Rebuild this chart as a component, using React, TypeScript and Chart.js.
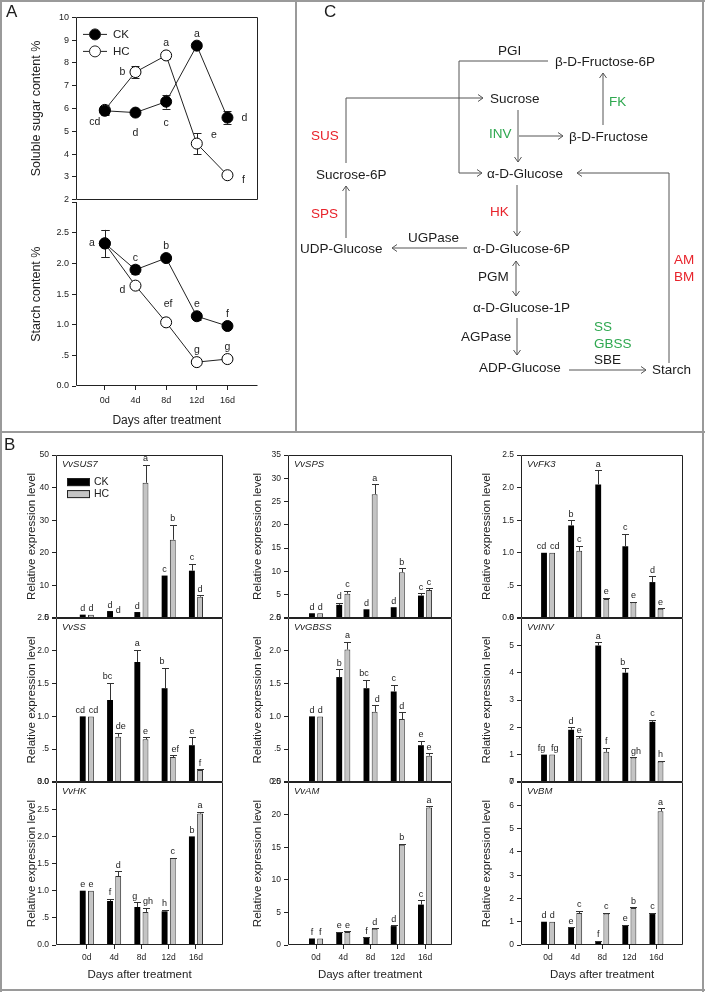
import React, { useEffect, useRef } from 'react';
import { Chart, registerables } from 'chart.js';

Chart.register(...registerables);

const FONT = "'Liberation Sans', Arial, Helvetica, sans-serif";
Chart.defaults.font.family = FONT;
Chart.defaults.color = '#222';

// ---------------- DATA ----------------
const days = ['0d', '4d', '8d', '12d', '16d'];

// Panel A — soluble sugar
const sugarCK = [5.9, 5.82, 6.3, 8.76, 5.6];
const sugarCKErr = [0.15, 0.06, 0.3, 0.1, 0.27];
const sugarHC = [5.94, 7.6, 8.33, 4.46, 3.07];
const sugarHCErr = [0.23, 0.27, 0.17, 0.46, 0.05];
const sugarCKLetters = ['cd', 'd', 'c', 'a', 'd'];
const sugarHCLetters = ['', 'b', 'a', 'e', 'f'];
const sugarCKLetterSide = ['bl', 'b', 'b', 'a', 'r'];
const sugarHCLetterSide = ['', 'l', 'a', 'ru', 'rd'];

// Panel A — starch
const starchCK = [2.33, 1.9, 2.09, 1.14, 0.98];
const starchCKErr = [0.22, 0.07, 0.05, 0.06, 0.05];
const starchHC = [2.33, 1.64, 1.04, 0.39, 0.44];
const starchHCErr = [0.22, 0.05, 0.03, 0.02, 0.03];
const starchCKLetters = ['', 'c', 'b', 'e', 'f'];
const starchHCLetters = ['a', 'd', 'ef', 'g', 'g'];
const starchCKLetterSide = ['', 'a', 'a', 'a', 'a'];
const starchHCLetterSide = ['l', 'ld', 'A', 'a', 'a'];

// Panel B — relative expression
const sus7CK = [1.0, 2.1, 1.8, 13.0, 14.5];
const sus7CKErr = [0, 0, 0, 0, 2.1];
const sus7HC = [1.0, 0.3, 41.5, 24.0, 6.5];
const sus7HCErr = [0, 0, 5.5, 4.6, 0.4];
const sus7CKLetters = ['d', 'd', 'd', 'c', 'c'];
const sus7HCLetters = ['d', 'd', 'a', 'b', 'd'];

const spsCK = [1.0, 2.8, 1.85, 2.3, 4.8];
const spsCKErr = [0, 0.5, 0, 0, 0.5];
const spsHC = [1.0, 5.2, 26.6, 9.8, 6.0];
const spsHCErr = [0, 0.6, 2.1, 0.9, 0.4];
const spsCKLetters = ['d', 'd', 'd', 'd', 'c'];
const spsHCLetters = ['d', 'c', 'a', 'b', 'c'];

const fk3CK = [1.0, 1.42, 2.05, 1.1, 0.55];
const fk3CKErr = [0, 0.08, 0.22, 0.19, 0.09];
const fk3HC = [1.0, 1.03, 0.29, 0.24, 0.14];
const fk3HCErr = [0, 0.08, 0.02, 0.01, 0.01];
const fk3CKLetters = ['cd', 'b', 'a', 'c', 'd'];
const fk3HCLetters = ['cd', 'c', 'e', 'e', 'e'];

const ssCK = [1.0, 1.25, 1.83, 1.43, 0.56];
const ssCKErr = [0, 0.26, 0.19, 0.31, 0.12];
const ssHC = [1.0, 0.69, 0.65, 0.38, 0.18];
const ssHCErr = [0, 0.06, 0.03, 0.03, 0.01];
const ssCKLetters = ['cd', 'bc', 'a', 'b', 'e'];
const ssHCLetters = ['cd', 'de', 'e', 'ef', 'f'];

const gbssCK = [1.0, 1.6, 1.43, 1.38, 0.56];
const gbssCKErr = [0, 0.12, 0.13, 0.1, 0.07];
const gbssHC = [1.0, 2.02, 1.07, 0.96, 0.4];
const gbssHCErr = [0, 0.12, 0.1, 0.1, 0.04];
const gbssCKLetters = ['d', 'b', 'bc', 'c', 'e'];
const gbssHCLetters = ['d', 'a', 'd', 'd', 'e'];

const invCK = [1.0, 1.91, 5.0, 4.0, 2.2];
const invCKErr = [0, 0.09, 0.12, 0.17, 0.08];
const invHC = [1.0, 1.6, 1.1, 0.89, 0.75];
const invHCErr = [0, 0.07, 0.15, 0.02, 0.03];
const invCKLetters = ['fg', 'd', 'a', 'b', 'c'];
const invHCLetters = ['fg', 'e', 'f', 'gh', 'h'];

const hkCK = [1.0, 0.81, 0.7, 0.62, 2.0];
const hkCKErr = [0, 0.04, 0.09, 0.03, 0];
const hkHC = [1.0, 1.27, 0.61, 1.6, 2.42];
const hkHCErr = [0, 0.09, 0.08, 0.01, 0.03];
const hkCKLetters = ['e', 'f', 'g', 'h', 'b'];
const hkHCLetters = ['e', 'd', 'gh', 'c', 'a'];

const amCK = [1.0, 1.9, 1.1, 2.9, 6.2];
const amCKErr = [0, 0.1, 0.1, 0.1, 0.7];
const amHC = [1.0, 2.0, 2.5, 15.4, 21.1];
const amHCErr = [0, 0.1, 0.05, 0.1, 0.2];
const amCKLetters = ['f', 'e', 'f', 'd', 'c'];
const amHCLetters = ['f', 'e', 'd', 'b', 'a'];

const bmCK = [1.0, 0.73, 0.16, 0.85, 1.33];
const bmCKErr = [0, 0.03, 0.02, 0.03, 0.06];
const bmHC = [1.0, 1.37, 1.35, 1.59, 5.75];
const bmHCErr = [0, 0.1, 0.04, 0.04, 0.12];
const bmCKLetters = ['d', 'e', 'f', 'e', 'c'];
const bmHCLetters = ['d', 'c', 'c', 'b', 'a'];

type GeneSpec = {
  name: string; ck: number[]; ckErr: number[]; hc: number[]; hcErr: number[];
  ckL: string[]; hcL: string[]; max: number; step: number;
};

const genes: GeneSpec[] = [
  { name: 'VvSUS7', ck: sus7CK, ckErr: sus7CKErr, hc: sus7HC, hcErr: sus7HCErr, ckL: sus7CKLetters, hcL: sus7HCLetters, max: 50, step: 10 },
  { name: 'VvSPS', ck: spsCK, ckErr: spsCKErr, hc: spsHC, hcErr: spsHCErr, ckL: spsCKLetters, hcL: spsHCLetters, max: 35, step: 5 },
  { name: 'VvFK3', ck: fk3CK, ckErr: fk3CKErr, hc: fk3HC, hcErr: fk3HCErr, ckL: fk3CKLetters, hcL: fk3HCLetters, max: 2.5, step: 0.5 },
  { name: 'VvSS', ck: ssCK, ckErr: ssCKErr, hc: ssHC, hcErr: ssHCErr, ckL: ssCKLetters, hcL: ssHCLetters, max: 2.5, step: 0.5 },
  { name: 'VvGBSS', ck: gbssCK, ckErr: gbssCKErr, hc: gbssHC, hcErr: gbssHCErr, ckL: gbssCKLetters, hcL: gbssHCLetters, max: 2.5, step: 0.5 },
  { name: 'VvINV', ck: invCK, ckErr: invCKErr, hc: invHC, hcErr: invHCErr, ckL: invCKLetters, hcL: invHCLetters, max: 6, step: 1 },
  { name: 'VvHK', ck: hkCK, ckErr: hkCKErr, hc: hkHC, hcErr: hkHCErr, ckL: hkCKLetters, hcL: hkHCLetters, max: 3, step: 0.5 },
  { name: 'VvAM', ck: amCK, ckErr: amCKErr, hc: amHC, hcErr: amHCErr, ckL: amCKLetters, hcL: amHCLetters, max: 25, step: 5 },
  { name: 'VvBM', ck: bmCK, ckErr: bmCKErr, hc: bmHC, hcErr: bmHCErr, ckL: bmCKLetters, hcL: bmHCLetters, max: 7, step: 1 },
];

// ---------------- HELPERS ----------------
const fmtTick = (step: number) => (v: number) => {
  if (step >= 1) return String(v);
  if (Math.abs(v) < 1e-9) return '0.0';
  if (Math.abs(v - 0.5) < 1e-9) return '.5';
  return v.toFixed(1);
};

function boxPlugin(sides: 'all' | 'lb') {
  return {
    id: 'boxFrame',
    afterDraw(chart: any) {
      const { ctx, chartArea: a } = chart;
      const l = Math.round(a.left) + 0.5, r = Math.round(a.right) - 0.5;
      const t = Math.round(a.top) + 0.5, b = Math.round(a.bottom) - 0.5;
      ctx.save();
      ctx.strokeStyle = '#222';
      ctx.lineWidth = 1;
      ctx.beginPath();
      if (sides === 'all') {
        ctx.rect(l, t, r - l, b - t);
      } else {
        ctx.moveTo(l, Math.round(a.top));
        ctx.lineTo(l, b);
        ctx.lineTo(r, b);
      }
      ctx.stroke();
      ctx.restore();
    },
  };
}

const sideOffsets: Record<string, [number, number]> = {
  a: [0, -12], A: [2, -18], b: [0, 21], l: [-13, 0], ld: [-13, 4],
  r: [17, 0], ru: [17, -8], rd: [16, 5], bl: [-10, 11],
};

function lineAnnot(errs: number[][], letters: string[][], sides: string[][], legend: boolean) {
  return {
    id: 'lineAnnot',
    beforeDatasetsDraw(chart: any) {
      const { ctx } = chart;
      const ys = chart.scales.y;
      ctx.save();
      ctx.strokeStyle = '#222';
      ctx.lineWidth = 1;
      chart.data.datasets.forEach((ds: any, di: number) => {
        const meta = chart.getDatasetMeta(di);
        meta.data.forEach((el: any, i: number) => {
          const v = ds.data[i].y;
          const e = errs[di][i];
          if (!e) return;
          const yt = ys.getPixelForValue(v + e);
          const yb = ys.getPixelForValue(v - e);
          const x = Math.round(el.x) + 0.5;
          ctx.beginPath();
          ctx.moveTo(x, yt); ctx.lineTo(x, yb);
          ctx.moveTo(x - 4, Math.round(yt) + 0.5); ctx.lineTo(x + 4, Math.round(yt) + 0.5);
          ctx.moveTo(x - 4, Math.round(yb) + 0.5); ctx.lineTo(x + 4, Math.round(yb) + 0.5);
          ctx.stroke();
        });
      });
      ctx.restore();
    },
    afterDatasetsDraw(chart: any) {
      const { ctx, chartArea: a } = chart;
      ctx.save();
      ctx.fillStyle = '#222';
      ctx.font = `10.5px ${FONT}`;
      ctx.textAlign = 'center';
      ctx.textBaseline = 'middle';
      chart.data.datasets.forEach((_ds: any, di: number) => {
        const meta = chart.getDatasetMeta(di);
        meta.data.forEach((el: any, i: number) => {
          const txt = letters[di][i];
          if (!txt) return;
          const off = sideOffsets[sides[di][i]] || [0, -12];
          ctx.fillText(txt, el.x + off[0], el.y + off[1]);
        });
      });
      if (legend) {
        const rows: [string, string][] = [['CK', '#000'], ['HC', '#fff']];
        rows.forEach(([lab, fill], k) => {
          const y = a.top + 17 + k * 17;
          ctx.strokeStyle = '#222';
          ctx.lineWidth = 1;
          ctx.beginPath();
          ctx.moveTo(a.left + 7, y); ctx.lineTo(a.left + 31, y);
          ctx.stroke();
          ctx.beginPath();
          ctx.arc(a.left + 19, y, 5.5, 0, Math.PI * 2);
          ctx.fillStyle = fill;
          ctx.fill();
          ctx.stroke();
          ctx.fillStyle = '#222';
          ctx.font = `11.5px ${FONT}`;
          ctx.textAlign = 'left';
          ctx.fillText(lab, a.left + 37, y + 0.5);
        });
      }
      ctx.restore();
    },
  };
}

function barAnnot(g: GeneSpec, legend: boolean) {
  const errs = [g.ckErr, g.hcErr];
  const letters = [g.ckL, g.hcL];
  return {
    id: 'barAnnot',
    afterDatasetsDraw(chart: any) {
      const { ctx, chartArea: a } = chart;
      const ys = chart.scales.y;
      ctx.save();
      ctx.strokeStyle = '#333';
      ctx.lineWidth = 1;
      ctx.fillStyle = '#222';
      ctx.font = `9px ${FONT}`;
      ctx.textAlign = 'center';
      ctx.textBaseline = 'bottom';
      chart.data.datasets.forEach((ds: any, di: number) => {
        const meta = chart.getDatasetMeta(di);
        meta.data.forEach((el: any, i: number) => {
          const v = ds.data[i].y;
          const e = errs[di][i];
          let top = el.y;
          if (e > 0) {
            const ye = ys.getPixelForValue(v + e);
            const x = Math.round(el.x) + 0.5;
            const yc = Math.round(ye) + 0.5;
            ctx.beginPath();
            ctx.moveTo(x, el.y); ctx.lineTo(x, yc);
            ctx.moveTo(x - 3.5, yc); ctx.lineTo(x + 3.5, yc);
            ctx.stroke();
            top = ye;
          }
          const txt = letters[di][i];
          const other = letters[1 - di][i];
          const wide = txt.length > 1 || other.length > 1;
          const nudge = wide ? (di === 0 ? -2.5 : 2.5) : 0;
          ctx.fillText(txt, el.x + nudge, top - 1.5);
        });
      });
      ctx.textAlign = 'left';
      ctx.textBaseline = 'middle';
      ctx.font = `italic 9.5px ${FONT}`;
      ctx.fillText(g.name, a.left + 6, a.top + 9);
      if (legend) {
        ctx.font = `10.5px ${FONT}`;
        const rows: [string, string][] = [['CK', '#000'], ['HC', '#c4c4c4']];
        rows.forEach(([lab, fill], k) => {
          const y = a.top + 23 + k * 12;
          ctx.fillStyle = fill;
          ctx.fillRect(a.left + 11, y, 23, 8);
          ctx.strokeStyle = '#222';
          ctx.strokeRect(a.left + 11.5, y + 0.5, 22, 7);
          ctx.fillStyle = '#222';
          ctx.fillText(lab, a.left + 38, y + 4.5);
        });
      }
      ctx.restore();
    },
  };
}

function ChartBox({ x, y, w, h, make }: { x: number; y: number; w: number; h: number; make: () => any }) {
  const ref = useRef<HTMLCanvasElement>(null);
  useEffect(() => {
    const chart = new Chart(ref.current as HTMLCanvasElement, make());
    return () => chart.destroy();
  }, []);
  return (
    <canvas
      ref={ref}
      width={w}
      height={h}
      style={{ position: 'absolute', left: x, top: y, width: w, height: h }}
    />
  );
}

const tickGrid = { display: true, drawOnChartArea: false, drawTicks: true, tickLength: 4, color: '#222', offset: false };

// ---------------- PANEL A CONFIGS ----------------
function lineDatasets(ck: number[], hc: number[]) {
  const base = { borderColor: '#222', borderWidth: 1, pointRadius: 5.5, pointBorderColor: '#000', pointBorderWidth: 1, tension: 0 };
  return [
    { ...base, label: 'CK', data: ck.map((v, i) => ({ x: i, y: v })), pointBackgroundColor: '#000' },
    { ...base, label: 'HC', data: hc.map((v, i) => ({ x: i, y: v })), pointBackgroundColor: '#fff' },
  ];
}

const A_LEFT = 76, A_RIGHT = 258, A_CANVAS_X = 29;

function sugarConfig() {
  const yW = A_LEFT - A_CANVAS_X;
  return {
    type: 'line',
    data: { datasets: lineDatasets(sugarCK, sugarHC) },
    options: {
      responsive: false, animation: false,
      layout: { padding: { left: 0, top: 8, right: 6, bottom: 6 } },
      plugins: { legend: { display: false }, tooltip: { enabled: false } },
      scales: {
        x: { type: 'linear', min: -0.94, max: 4.98, display: false, offset: false,
          afterBuildTicks: (s: any) => { s.ticks = days.map((_, i) => ({ value: i })); } },
        y: { min: 2, max: 10,
          ticks: { stepSize: 1, font: { size: 9 }, padding: 3, color: '#222' },
          grid: tickGrid, border: { display: false },
          title: { display: true, text: 'Soluble sugar content %', font: { size: 12.5, lineHeight: 1.2 }, padding: 0, color: '#222' },
          afterFit: (s: any) => { s.width = yW; } },
      },
    },
    plugins: [lineAnnot([sugarCKErr, sugarHCErr], [sugarCKLetters, sugarHCLetters], [sugarCKLetterSide, sugarHCLetterSide], true), boxPlugin('all')],
  };
}

function starchConfig() {
  const yW = A_LEFT - A_CANVAS_X;
  const xH = 428 - 386;
  const f = fmtTick(0.5);
  return {
    type: 'line',
    data: { datasets: lineDatasets(starchCK, starchHC) },
    options: {
      responsive: false, animation: false,
      layout: { padding: { left: 0, top: 8, right: 6, bottom: 0 } },
      plugins: { legend: { display: false }, tooltip: { enabled: false } },
      scales: {
        x: { type: 'linear', min: -0.94, max: 4.98, offset: false,
          afterBuildTicks: (s: any) => { s.ticks = days.map((_, i) => ({ value: i })); },
          ticks: { callback: (v: number) => days[v] ?? '', font: { size: 9 }, padding: 5, autoSkip: false, maxRotation: 0, color: '#222' },
          grid: tickGrid, border: { display: false },
          title: { display: true, text: 'Days after treatment', font: { size: 12, lineHeight: 1.2 }, padding: 0, color: '#222' },
          afterFit: (s: any) => { s.height = xH; } },
        y: { min: 0, max: 3,
          ticks: { stepSize: 0.5, font: { size: 9 }, padding: 3, color: '#222', callback: (v: number) => (v >= 3 ? '' : f(v)) },
          grid: tickGrid, border: { display: false },
          title: { display: true, text: 'Starch content %', font: { size: 12.5, lineHeight: 1.2 }, padding: 0, color: '#222' },
          afterFit: (s: any) => { s.width = yW; } },
      },
    },
    plugins: [lineAnnot([starchCKErr, starchHCErr], [starchCKLetters, starchHCLetters], [starchCKLetterSide, starchHCLetterSide], false), boxPlugin('lb')],
  };
}

// ---------------- PANEL B CONFIGS ----------------
const colArea = [[56, 223], [288, 452], [521, 683]];
const colCanvasX = [25, 251, 480];
const colXRange = [[-1.13, 4.99], [-1.03, 4.99], [-1.0, 4.98]];
const rowArea = [[455, 618], [618, 782], [782, 945]];
const B_BOTTOM = 982;

function geneLayout(idx: number) {
  const c = idx % 3, r = Math.floor(idx / 3);
  const [aL, aR] = colArea[c];
  const [aT, aB] = rowArea[r];
  const x = colCanvasX[c];
  const y = aT - 8;
  const w = aR + 6 - x;
  const h = (r === 2 ? B_BOTTOM : aB + 8) - y;
  return { c, r, aL, aR, aT, aB, x, y, w, h };
}

function geneConfig(idx: number) {
  const g = genes[idx];
  const L = geneLayout(idx);
  const showX = L.r === 2;
  const yW = L.aL - L.x;
  const xH = B_BOTTOM - L.aB;
  const [xmin, xmax] = colXRange[L.c];
  const barOpts = { categoryPercentage: 0.6, barPercentage: 0.72 };
  return {
    type: 'bar',
    data: {
      datasets: [
        { label: 'CK', data: g.ck.map((v, i) => ({ x: i, y: v })), backgroundColor: '#000', borderColor: '#000', borderWidth: 0, ...barOpts },
        { label: 'HC', data: g.hc.map((v, i) => ({ x: i, y: v })), backgroundColor: '#c4c4c4', borderColor: '#333', borderWidth: 1, ...barOpts },
      ],
    },
    options: {
      responsive: false, animation: false,
      layout: { padding: { left: 0, top: 8, right: 6, bottom: showX ? 0 : 8 } },
      plugins: { legend: { display: false }, tooltip: { enabled: false } },
      scales: {
        x: { type: 'linear', min: xmin, max: xmax, display: showX, offset: false,
          afterBuildTicks: (s: any) => { s.ticks = days.map((_, i) => ({ value: i })); },
          ticks: { callback: (v: number) => days[v] ?? '', font: { size: 8.5 }, padding: 4, autoSkip: false, maxRotation: 0, color: '#222' },
          grid: tickGrid, border: { display: false },
          title: { display: showX, text: 'Days after treatment', font: { size: 11.5, lineHeight: 1.2 }, padding: 0, color: '#222' },
          afterFit: (s: any) => { if (showX) s.height = xH; } },
        y: { min: 0, max: g.max,
          ticks: { stepSize: g.step, font: { size: 8.5 }, padding: 3, color: '#222', callback: fmtTick(g.step) },
          grid: tickGrid, border: { display: false },
          title: { display: true, text: 'Relative expression level', font: { size: 11.5, lineHeight: 1.2 }, padding: 0, color: '#222' },
          afterFit: (s: any) => { s.width = yW; } },
      },
    },
    plugins: [barAnnot(g, idx === 0), boxPlugin('all')],
  };
}

// ---------------- PANEL C (diagram) ----------------
const RED = '#e8232b';
const GREEN = '#2fa850';
const INK = '#1c1c1c';

function arrow(pts: number[][], both = false, key?: string) {
  let d = 'M' + pts.map((p) => p.join(' ')).join(' L');
  const chev = (tip: number[], from: number[]) => {
    const dx = tip[0] - from[0], dy = tip[1] - from[1];
    const len = Math.hypot(dx, dy);
    const ux = dx / len, uy = dy / len;
    const s = 5, wd = 3.5;
    const bx = tip[0] - ux * s, by = tip[1] - uy * s;
    return ` M${bx - uy * wd} ${by + ux * wd} L${tip[0]} ${tip[1]} L${bx + uy * wd} ${by - ux * wd}`;
  };
  d += chev(pts[pts.length - 1], pts[pts.length - 2]);
  if (both) d += chev(pts[0], pts[1]);
  return <path key={key} d={d} fill="none" stroke="#555" strokeWidth={1} />;
}

function Label({ x, y, t, color = INK, size = 13.5 }: { x: number; y: number; t: string; color?: string; size?: number }) {
  return (
    <text x={x} y={y} fill={color} fontSize={size} fontFamily={FONT} dominantBaseline="central">{t}</text>
  );
}

function Overlay() {
  const frame = '#9a9a9a';
  return (
    <svg width={705} height={992} style={{ position: 'absolute', left: 0, top: 0, pointerEvents: 'none' }}>
      <line x1={0} y1={1} x2={705} y2={1} stroke={frame} strokeWidth={2} />
      <line x1={1} y1={0} x2={1} y2={992} stroke={frame} strokeWidth={2} />
      <line x1={703} y1={0} x2={703} y2={992} stroke={frame} strokeWidth={2} />
      <line x1={0} y1={990} x2={705} y2={990} stroke={frame} strokeWidth={2} />
      <line x1={296} y1={0} x2={296} y2={432} stroke={frame} strokeWidth={2} />
      <line x1={0} y1={432} x2={705} y2={432} stroke={frame} strokeWidth={2} />
      <text x={6} y={17} fontSize={17} fontFamily={FONT} fill={INK}>A</text>
      <text x={324} y={17} fontSize={17} fontFamily={FONT} fill={INK}>C</text>
      <text x={4} y={450} fontSize={17} fontFamily={FONT} fill={INK}>B</text>
      <Label x={498} y={50} t="PGI" />
      <Label x={555} y={61} t="β-D-Fructose-6P" />
      {arrow([[548, 61], [459, 61], [459, 173], [482, 173]], false, 'a1')}
      <Label x={490} y={98} t="Sucrose" />
      {arrow([[346, 163], [346, 98], [483, 98]], false, 'a2')}
      <Label x={311} y={135} t="SUS" color={RED} />
      <Label x={316} y={174} t="Sucrose-6P" />
      <Label x={609} y={101} t="FK" color={GREEN} />
      {arrow([[603, 125], [603, 73]], false, 'a3')}
      <Label x={489} y={133} t="INV" color={GREEN} />
      {arrow([[518, 110], [518, 162]], false, 'a4')}
      {arrow([[519, 136], [563, 136]], false, 'a5')}
      <Label x={569} y={136} t="β-D-Fructose" />
      <Label x={487} y={173} t="α-D-Glucose" />
      {arrow([[669, 363], [669, 173], [577, 173]], false, 'a6')}
      <Label x={674} y={259} t="AM" color={RED} />
      <Label x={674} y={276} t="BM" color={RED} />
      <Label x={490} y={211} t="HK" color={RED} />
      {arrow([[517, 185], [517, 236]], false, 'a7')}
      <Label x={473} y={248} t="α-D-Glucose-6P" />
      <Label x={408} y={237} t="UGPase" />
      {arrow([[467, 248], [392, 248]], false, 'a8')}
      <Label x={300} y={248} t="UDP-Glucose" />
      {arrow([[346, 238], [346, 186]], false, 'a9')}
      <Label x={311} y={213} t="SPS" color={RED} />
      <Label x={478} y={276} t="PGM" />
      {arrow([[516, 261], [516, 296]], true, 'a10')}
      <Label x={473} y={307} t="α-D-Glucose-1P" />
      <Label x={461} y={336} t="AGPase" />
      {arrow([[517, 318], [517, 355]], false, 'a11')}
      <Label x={479} y={367} t="ADP-Glucose" />
      {arrow([[569, 370], [646, 370]], false, 'a12')}
      <Label x={594} y={326} t="SS" color={GREEN} />
      <Label x={594} y={343} t="GBSS" color={GREEN} />
      <Label x={594} y={359} t="SBE" />
      <Label x={652} y={369} t="Starch" />
    </svg>
  );
}

export default function App() {
  return (
    <div style={{ position: 'absolute', left: 0, top: 0, width: 705, height: 992, background: '#fff', overflow: 'hidden' }}>
      <ChartBox x={A_CANVAS_X} y={9} w={A_RIGHT + 6 - A_CANVAS_X} h={202 + 6 - 9} make={sugarConfig} />
      <ChartBox x={A_CANVAS_X} y={194} w={A_RIGHT + 6 - A_CANVAS_X} h={428 - 194} make={starchConfig} />
      {genes.map((_, i) => {
        const L = geneLayout(i);
        return <ChartBox key={i} x={L.x} y={L.y} w={L.w} h={L.h} make={() => geneConfig(i)} />;
      })}
      <Overlay />
    </div>
  );
}
